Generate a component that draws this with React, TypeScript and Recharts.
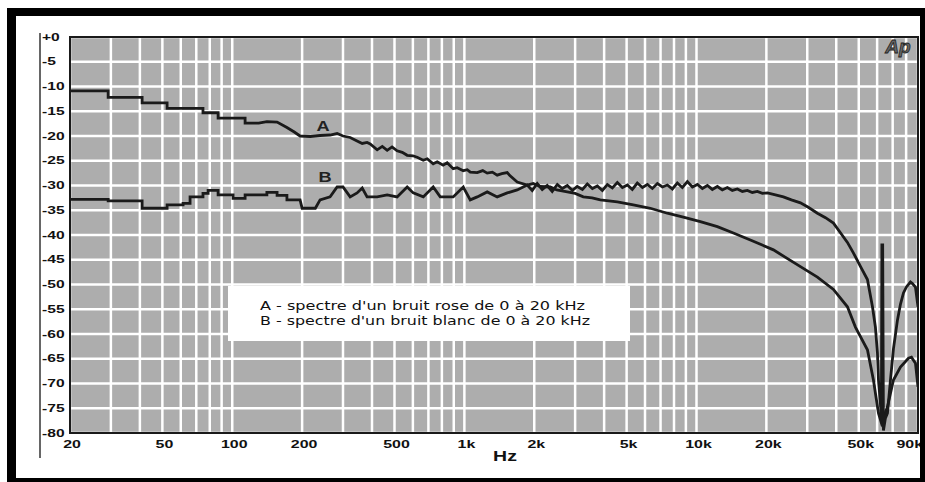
import React from 'react';
import { LineChart, Line, XAxis, YAxis, CartesianGrid, ReferenceArea, ReferenceDot, Legend } from 'recharts';

const gridFreqs = [20, 30, 40, 50, 60, 70, 80, 90, 100, 200, 300, 400, 500, 600, 700, 800, 900, 1000, 2000, 3000, 4000, 5000, 6000, 7000, 8000, 9000, 10000, 20000, 30000, 40000, 50000, 60000, 70000, 80000, 90000];
const freqLabels: Record<number, string> = { 20: '20', 50: '50', 100: '100', 200: '200', 500: '500', 1000: '1k', 2000: '2k', 5000: '5k', 10000: '10k', 20000: '20k', 50000: '50k', 90000: '90k' };
const levelTicks = [0, -5, -10, -15, -20, -25, -30, -35, -40, -45, -50, -55, -60, -65, -70, -75, -80];

const legendLines = ["A - spectre d'un bruit rose de 0 à 20 kHz", "B - spectre d'un bruit blanc de 0 à 20 kHz"];

// curve tags placed on the chart
const tagNames = ['A', 'B'];
const tagFreq = [246, 251];
const tagLevel = [-18.0, -28.3];

// Curve A : bruit rose
const aFreq = [20, 29.2, 29.2, 40.9, 40.9, 52.4, 52.4, 74.8, 74.8, 86.9, 86.9, 113.6, 113.6, 130, 141, 156, 172, 185, 196, 217, 239, 264, 283, 300, 322, 345, 363, 381, 393, 421, 443, 465, 488, 513, 540, 567, 600, 626, 665, 692, 734, 764, 810, 843, 895, 931, 989, 1029, 1060, 1136, 1200, 1254, 1320, 1385, 1450, 1530, 1570, 1689, 1866, 1980, 2123, 2344, 2500, 2776, 3000, 3253, 3550, 3851, 4558, 5343, 6325, 7488, 8774, 10388, 12298, 14414, 17062, 21440, 28040, 33180, 38900, 44690, 48380, 54500, 57840, 60800, 62620, 66480, 70540, 75620, 81880, 84340, 87760, 90000];
const aLevel = [-10.9, -10.9, -12.2, -12.2, -13.3, -13.3, -14.4, -14.4, -15.3, -15.3, -16.4, -16.4, -17.4, -17.4, -17.1, -17.2, -18.3, -19.2, -20.0, -20.1, -19.9, -19.8, -19.5, -20.0, -20.3, -21.0, -21.5, -21.3, -21.6, -22.8, -22.1, -22.9, -22.2, -23.0, -23.3, -23.9, -24.0, -24.3, -24.9, -24.6, -25.6, -25.2, -25.9, -25.4, -26.6, -26.4, -27.0, -26.8, -27.3, -27.4, -27.0, -27.5, -27.3, -27.9, -27.6, -27.4, -28.0, -29.3, -29.9, -29.6, -30.2, -30.3, -30.9, -31.3, -31.6, -32.3, -32.5, -32.9, -33.3, -33.9, -34.6, -35.6, -36.4, -37.3, -38.3, -39.6, -41.0, -43.0, -46.4, -48.5, -51.0, -54.5, -58.6, -63.2, -69.3, -76.0, -78.0, -74.7, -69.3, -66.7, -64.9, -64.7, -65.9, -70.7];

// Curve B : bruit blanc
const bFreq = [20, 29.2, 29.2, 40.9, 40.9, 52.4, 52.4, 61.4, 61.4, 65.8, 65.8, 74.8, 74.8, 78.7, 78.7, 86.9, 86.9, 100.8, 100.8, 113.6, 113.6, 141, 141, 156, 156, 172, 172, 196, 200, 210, 228, 239, 264, 283, 300, 322, 345, 363, 381, 421, 465, 513, 567, 602, 665, 734, 787, 895, 989, 1060, 1136, 1254, 1385, 1530, 1689, 1866, 1960, 2060, 2165, 2275, 2390, 2515, 2640, 2776, 2920, 3065, 3225, 3385, 3560, 3740, 3930, 4130, 4340, 4560, 4795, 5040, 5290, 5560, 5850, 6145, 6455, 6785, 7130, 7490, 7870, 8270, 8690, 9135, 9600, 10090, 10600, 11140, 11700, 12300, 12920, 13580, 14270, 15000, 15760, 16560, 17400, 18290, 19220, 20200, 21880, 23680, 25640, 28040, 30300, 33180, 35950, 38900, 41620, 44690, 47400, 50900, 54500, 57290, 58990, 60180, 60800, 62000, 62600, 62900, 63400, 63880, 65150, 66480, 68480, 70540, 73400, 75620, 77920, 80240, 83520, 85180, 87760, 90000];
const bLevel = [-32.8, -32.8, -33.1, -33.1, -34.6, -34.6, -33.9, -33.9, -33.6, -33.6, -32.3, -32.3, -31.6, -31.6, -31.0, -31.0, -31.9, -31.9, -32.6, -32.6, -31.9, -31.9, -31.4, -31.4, -32.0, -32.0, -32.9, -32.9, -34.6, -34.6, -34.6, -32.9, -32.3, -30.3, -30.3, -32.3, -31.5, -30.5, -32.3, -32.3, -31.9, -32.3, -30.3, -31.5, -32.3, -30.3, -32.3, -32.3, -30.3, -32.9, -32.3, -31.3, -32.3, -31.5, -30.9, -29.9, -31.0, -29.6, -30.8, -30.0, -31.2, -29.8, -30.6, -30.0, -31.0, -30.2, -30.8, -29.7, -30.6, -30.1, -31.0, -29.8, -30.5, -29.4, -30.4, -29.9, -30.8, -29.5, -30.4, -29.8, -30.6, -29.6, -30.3, -29.9, -30.7, -29.5, -30.4, -29.2, -30.3, -29.8, -30.6, -30.0, -30.8, -30.2, -30.9, -30.4, -31.0, -30.7, -31.2, -31.0, -31.4, -31.2, -31.6, -31.5, -31.9, -32.3, -32.9, -33.5, -34.4, -35.6, -36.5, -37.6, -39.5, -41.5, -43.6, -46.4, -49.0, -54.5, -58.6, -63.8, -69.3, -74.0, -77.4, -42.0, -42.0, -79.5, -77.0, -76.0, -69.3, -63.0, -57.2, -54.0, -51.7, -50.5, -49.5, -49.8, -50.5, -54.5];

const seriesA = aFreq.map((f, i) => ({ f, db: aLevel[i] }));
const seriesB = bFreq.map((f, i) => ({ f, db: bLevel[i] }));

const FONT = '"Liberation Sans", Arial, sans-serif';

const XTick = (props: any) => {
  const { x, y, payload } = props;
  const lab = freqLabels[payload.value];
  if (!lab) return <g />;
  const end = payload.value === 90000;
  return (
    <text
      transform={`translate(${end ? x + 5 : x + 2},${y + 11}) scale(1.45,1)`}
      textAnchor={end ? 'end' : 'middle'}
      dominantBaseline="central"
      fontSize={11}
      fontWeight="bold"
      fontFamily={FONT}
      fill="#111"
    >
      {lab}
    </text>
  );
};

const YTick = (props: any) => {
  const { x, y, payload } = props;
  const lab = payload.value === 0 ? '+0' : String(payload.value);
  return (
    <text
      transform={`translate(${x - 28},${y}) scale(1.42,1)`}
      textAnchor="start"
      dominantBaseline="central"
      fontSize={11}
      fontWeight="bold"
      fontFamily={FONT}
      fill="#111"
    >
      {lab}
    </text>
  );
};

const TagLabel = (name: string) => (props: any) => {
  const { viewBox } = props;
  const cx = viewBox.x + (viewBox.width || 0) / 2;
  const cy = viewBox.y + (viewBox.height || 0) / 2;
  return (
    <text
      transform={`translate(${cx},${cy}) scale(1.3,1)`}
      textAnchor="middle"
      dominantBaseline="central"
      fontSize={14}
      fontWeight="bold"
      fontFamily={FONT}
      fill="#222"
    >
      {name}
    </text>
  );
};

const LegendBox = () => (
  <svg width={402} height={55} style={{ display: 'block' }}>
    <rect x={0} y={0} width={402} height={55} fill="#fff" />
    <text x={32} y={20} textLength={325} lengthAdjust="spacingAndGlyphs" fontSize={12} dominantBaseline="central" fontFamily='"DejaVu Sans", sans-serif' fill="#111">
      {legendLines[0]}
    </text>
    <text x={32} y={35} textLength={330} lengthAdjust="spacingAndGlyphs" fontSize={12} dominantBaseline="central" fontFamily='"DejaVu Sans", sans-serif' fill="#111">
      {legendLines[1]}
    </text>
  </svg>
);

const HzLabel = (props: any) => {
  const { viewBox } = props;
  return (
    <text
      transform={`translate(${viewBox.x + viewBox.width / 2 + 11},${viewBox.y + 23}) scale(1.3,1)`}
      textAnchor="middle"
      dominantBaseline="central"
      fontSize={15}
      fontWeight="bold"
      fontFamily={FONT}
      fill="#111"
    >
      Hz
    </text>
  );
};

export default function App() {
  return (
    <div style={{ position: 'absolute', left: 0, top: 0, width: 925, height: 482, background: '#fff', fontFamily: FONT }}>
      <LineChart width={925} height={482} margin={{ top: 37, right: 7, bottom: 19, left: 20 }}>
        <CartesianGrid fill="#adadad" fillOpacity={1} stroke="#ffffff" strokeWidth={2.5} />
        <XAxis
          dataKey="f"
          type="number"
          scale="log"
          domain={[20, 90000]}
          allowDataOverflow
          ticks={gridFreqs}
          interval={0}
          height={30}
          axisLine={false}
          tickLine={false}
          tickSize={0}
          tickMargin={0}
          tick={<XTick />}
          label={<HzLabel />}
        />
        <YAxis
          dataKey="db"
          type="number"
          domain={[-80, 0]}
          ticks={levelTicks}
          interval={0}
          width={50}
          axisLine={false}
          tickLine={false}
          tickSize={0}
          tickMargin={0}
          tick={<YTick />}
        />
        <ReferenceArea x1={20} x2={90000} y1={-80} y2={0} fill="none" stroke="#1a1a1a" strokeWidth={2} />
        <Line data={seriesA} dataKey="db" name="A" type="linear" stroke="#1a1a1a" strokeWidth={2.8} dot={false} isAnimationActive={false} />
        <Line data={seriesB} dataKey="db" name="B" type="linear" stroke="#1a1a1a" strokeWidth={2.8} dot={false} isAnimationActive={false} />
        {tagNames.map((n, i) => (
          <ReferenceDot key={n} x={tagFreq[i]} y={tagLevel[i]} r={0} fill="none" stroke="none" label={TagLabel(n)} />
        ))}
        <Legend
          layout="horizontal"
          verticalAlign="middle"
          align="center"
          content={<LegendBox />}
          wrapperStyle={{ left: 228, top: 286, width: 402, height: 55 }}
        />
      </LineChart>
      <svg width={925} height={482} style={{ position: 'absolute', left: 0, top: 0, pointerEvents: 'none' }}>
        <rect x={7} y={8} width={918} height={8} fill="#000" />
        <rect x={7} y={8} width={9} height={474} fill="#000" />
        <rect x={7} y={478} width={918} height={4} fill="#000" />
        <rect x={920} y={8} width={5} height={474} fill="#000" />
        <line x1={40} y1={33} x2={40} y2={458} stroke="#333" strokeWidth={1.5} />
        <text x={898} y={46} textAnchor="middle" dominantBaseline="central" fontSize={19} fontStyle="italic" fontWeight="bold" fontFamily={FONT} fill="#666" stroke="#222" strokeWidth={0.8}>
          Ap
        </text>
      </svg>
    </div>
  );
}
